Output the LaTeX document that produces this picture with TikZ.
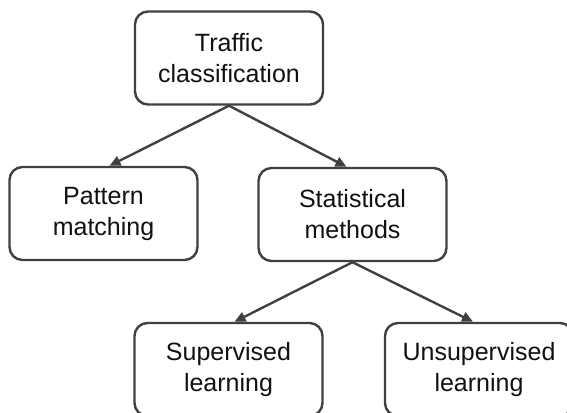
\documentclass[tikz,border=0pt]{standalone}
\usepackage{fontspec}
\setmainfont{Liberation Sans}
\usetikzlibrary{arrows.meta}
\definecolor{edgegray}{HTML}{404040}
\definecolor{txt}{HTML}{111111}
\begin{document}
\begin{tikzpicture}[x=1pt,y=-1pt,
  box/.style={draw=edgegray, line width=2.4pt, rounded corners=13pt, fill=white,
    minimum width=188pt, minimum height=93pt, align=center, inner sep=0pt,
    text=txt, font=\fontsize{25pt}{31pt}\selectfont},
  conn/.style={draw=edgegray, line width=2.4pt, -{Triangle[length=11pt,width=10pt]}}]
\useasboundingbox (0,0) rectangle (567,412);
\clip (0,0) rectangle (567,412);
\node[box] (tc) at (229,58) {Traffic\\classification};
\node[box] (pm) at (103.5,213.5) {Pattern\\matching};
\node[box] (sm) at (352.5,214.5) {Statistical\\methods};
\node[box] (sl) at (228.5,369.5) {Supervised\\learning};
\node[box] (ul) at (479,369.5) {Unsupervised\\learning};
\draw[conn] (tc.south) -- ([xshift=6pt]pm.north);
\draw[conn] (tc.south) -- ([xshift=-6pt]sm.north);
\draw[conn] (sm.south) -- ([xshift=6pt]sl.north);
\draw[conn] (sm.south) -- ([xshift=-6pt]ul.north);
\end{tikzpicture}
\end{document}
